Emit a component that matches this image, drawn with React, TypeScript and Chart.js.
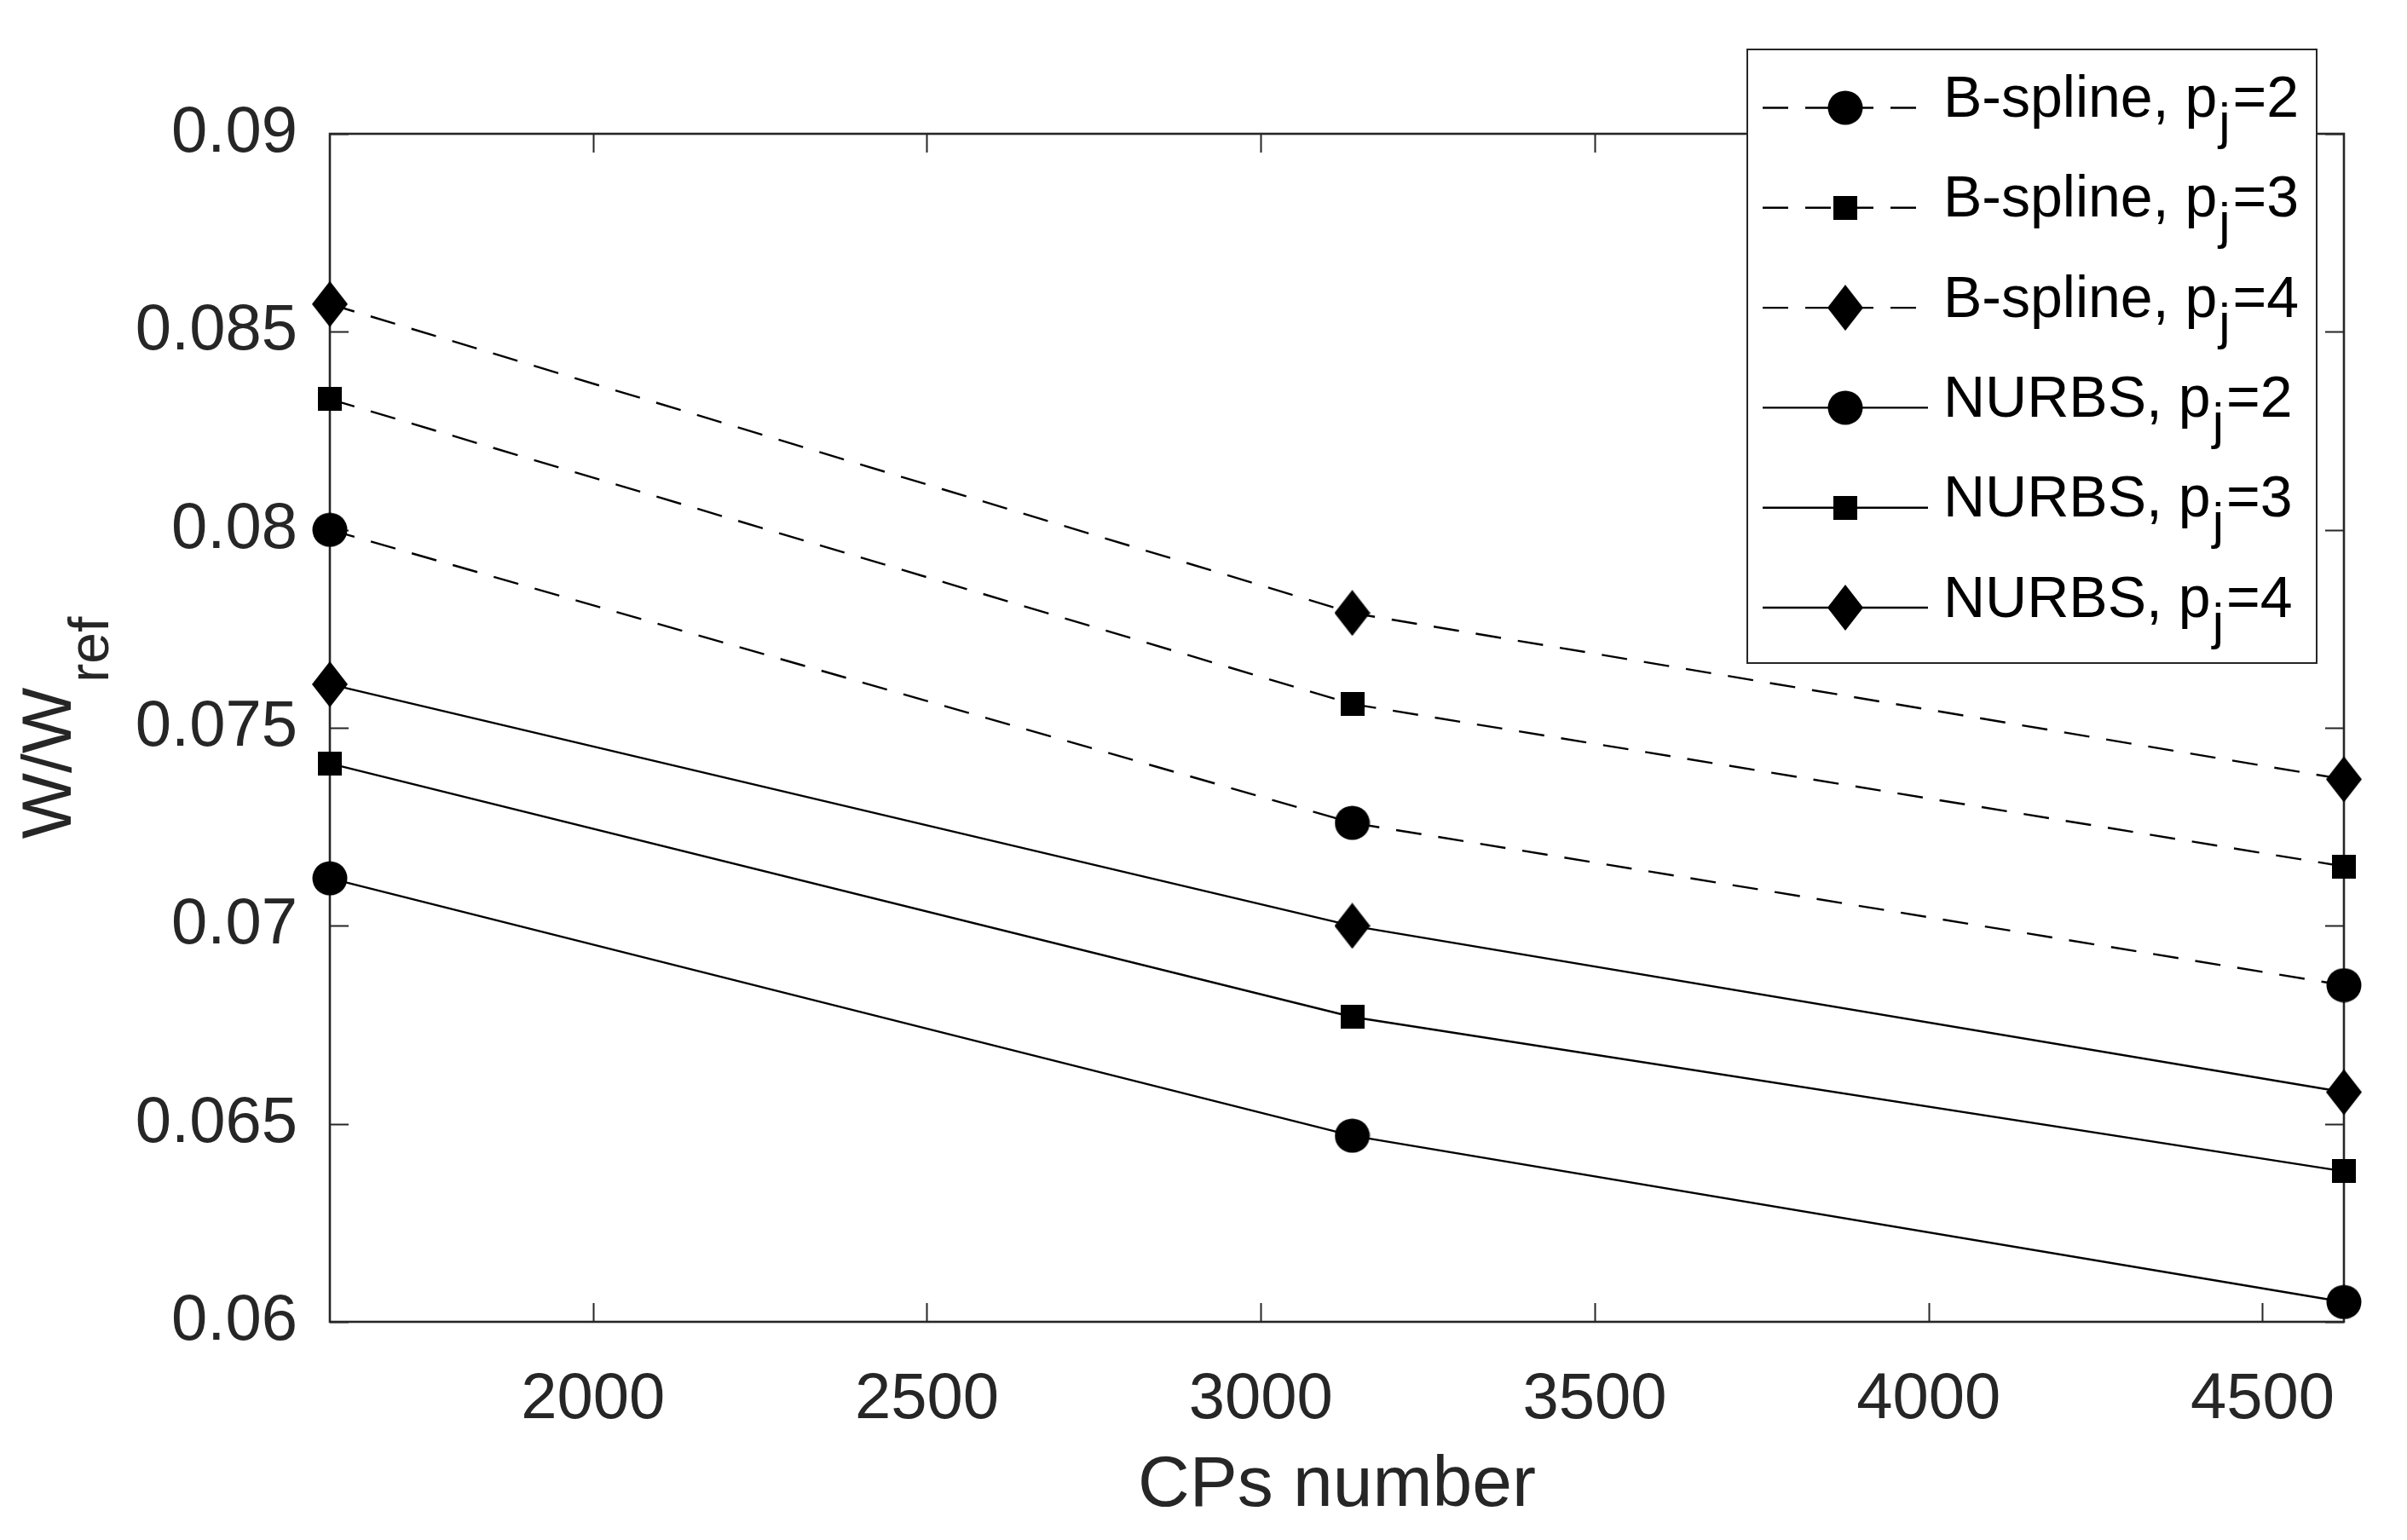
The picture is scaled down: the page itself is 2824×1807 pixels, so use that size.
import React, { useEffect, useRef } from "react";
import { Chart, registerables } from "chart.js";

Chart.register(...registerables);

// ---------- data ----------
const cpsNumber = [1606, 3137, 4622];
const bspline2 = [0.08, 0.0726, 0.0685];
const bspline3 = [0.0833, 0.0756, 0.0715];
const bspline4 = [0.0857, 0.0779, 0.0737];
const nurbs2 = [0.0712, 0.0647, 0.0605];
const nurbs3 = [0.0741, 0.0677, 0.0638];
const nurbs4 = [0.0761, 0.07, 0.0658];

const seriesNames = ["B-spline", "B-spline", "B-spline", "NURBS", "NURBS", "NURBS"];
const seriesDegrees = ["2", "3", "4", "2", "3", "4"];
const seriesValues = [bspline2, bspline3, bspline4, nurbs2, nurbs3, nurbs4];
const seriesMarkers = ["circle", "square", "diamond", "circle", "square", "diamond"];
const seriesDashed = [true, true, true, false, false, false];

const xTitle = "CPs number";
const yTitleMain = "W/W";
const yTitleSub = "ref";
const xLimits = [1606, 4622];
const yLimits = [0.06, 0.09];
const xTickValues = [2000, 2500, 3000, 3500, 4000, 4500];
const yTickValues = [0.06, 0.065, 0.07, 0.075, 0.08, 0.085, 0.09];

const FONT = "'Liberation Sans', Arial, Helvetica, sans-serif";
const AXIS_COLOR = "#262626";

function makeMarker(kind: string): HTMLCanvasElement {
  const c = document.createElement("canvas");
  let w = 42;
  let h = 41;
  if (kind === "square") {
    w = 28;
    h = 28;
  } else if (kind === "diamond") {
    w = 42;
    h = 54;
  }
  c.width = w;
  c.height = h;
  const ctx = c.getContext("2d")!;
  ctx.fillStyle = "#000";
  ctx.beginPath();
  if (kind === "circle") {
    ctx.ellipse(w / 2, h / 2, w / 2 - 0.5, h / 2 - 0.5, 0, 0, Math.PI * 2);
  } else if (kind === "square") {
    ctx.rect(0, 0, w, h);
  } else {
    ctx.moveTo(w / 2, 0);
    ctx.lineTo(w, h / 2);
    ctx.lineTo(w / 2, h);
    ctx.lineTo(0, h / 2);
    ctx.closePath();
  }
  ctx.fill();
  return c;
}

export default function App() {
  const ref = useRef<HTMLCanvasElement | null>(null);

  useEffect(() => {
    const canvas = ref.current;
    if (!canvas) return;
    const markers: Record<string, HTMLCanvasElement> = {
      circle: makeMarker("circle"),
      square: makeMarker("square"),
      diamond: makeMarker("diamond"),
    };

    const datasets = seriesValues.map((vals, i) => ({
      label: `${seriesNames[i]}, p_j=${seriesDegrees[i]}`,
      data: vals.map((v, k) => ({ x: cpsNumber[k], y: v })),
      borderColor: "#000",
      backgroundColor: "#000",
      borderWidth: 2.4,
      borderDash: seriesDashed[i] ? [30, 20] : [],
      pointStyle: markers[seriesMarkers[i]] as any,
      pointRadius: 20,
      tension: 0,
      clip: false as any,
      fill: false,
    }));

    const TICK_LEN = 22;

    const frame = {
      id: "matlabFrame",
      beforeDatasetsDraw(chart: any) {
        const { ctx, chartArea: a, scales } = chart;
        ctx.save();
        ctx.strokeStyle = AXIS_COLOR;
        ctx.lineWidth = 2;
        ctx.beginPath();
        scales.x.ticks.forEach((t: any) => {
          const px = Math.round(scales.x.getPixelForValue(t.value)) + 0.5;
          ctx.moveTo(px, a.bottom);
          ctx.lineTo(px, a.bottom - TICK_LEN);
          ctx.moveTo(px, a.top);
          ctx.lineTo(px, a.top + TICK_LEN);
        });
        scales.y.ticks.forEach((t: any) => {
          const py = Math.round(scales.y.getPixelForValue(t.value)) + 0.5;
          ctx.moveTo(a.left, py);
          ctx.lineTo(a.left + TICK_LEN, py);
          ctx.moveTo(a.right, py);
          ctx.lineTo(a.right - TICK_LEN, py);
        });
        ctx.stroke();
        ctx.lineWidth = 2.6;
        ctx.strokeRect(a.left, a.top, a.right - a.left, a.bottom - a.top);
        ctx.restore();
      },
      afterDraw(chart: any) {
        const { ctx, chartArea: a } = chart;
        // y axis title with subscript
        ctx.save();
        ctx.fillStyle = AXIS_COLOR;
        ctx.textBaseline = "alphabetic";
        ctx.textAlign = "left";
        const mainFont = `82px ${FONT}`;
        const subFont = `66px ${FONT}`;
        ctx.font = mainFont;
        const wMain = ctx.measureText(yTitleMain).width;
        ctx.font = subFont;
        const wSub = ctx.measureText(yTitleSub).width;
        const total = wMain + 6 + wSub;
        const cy = (a.top + a.bottom) / 2;
        ctx.translate(83, cy + total / 2);
        ctx.rotate(-Math.PI / 2);
        ctx.font = mainFont;
        ctx.fillText(yTitleMain, 0, 0);
        ctx.font = subFont;
        ctx.fillText(yTitleSub, wMain + 6, 44);
        ctx.restore();

        // legend
        ctx.save();
        const bx = 2050;
        const by = 58;
        const bw = 668;
        const bh = 720;
        ctx.fillStyle = "#fff";
        ctx.fillRect(bx, by, bw, bh);
        ctx.strokeStyle = AXIS_COLOR;
        ctx.lineWidth = 2;
        ctx.strokeRect(bx, by, bw, bh);
        for (let i = 0; i < seriesNames.length; i++) {
          const base = 137 + i * 117.3;
          const my = base - 10.5;
          ctx.strokeStyle = "#000";
          ctx.lineWidth = 2.4;
          ctx.setLineDash(seriesDashed[i] ? [30, 20] : []);
          ctx.beginPath();
          ctx.moveTo(2068, my);
          ctx.lineTo(2262, my);
          ctx.stroke();
          ctx.setLineDash([]);
          const m = markers[seriesMarkers[i]];
          ctx.drawImage(m, 2165 - m.width / 2, my - m.height / 2);
          ctx.fillStyle = "#000";
          ctx.textAlign = "left";
          ctx.textBaseline = "alphabetic";
          let x = 2280;
          ctx.font = `68px ${FONT}`;
          const t1 = `${seriesNames[i]}, p`;
          ctx.fillText(t1, x, base);
          x += ctx.measureText(t1).width;
          ctx.font = `60px ${FONT}`;
          ctx.fillText("j", x + 2, base + 26);
          x += ctx.measureText("j").width + 5;
          ctx.font = `68px ${FONT}`;
          ctx.fillText(`=${seriesDegrees[i]}`, x, base);
        }
        ctx.restore();
      },
    };

    const chart = new Chart(canvas, {
      type: "line",
      data: { datasets: datasets as any },
      options: {
        animation: false,
        responsive: true,
        maintainAspectRatio: false,
        devicePixelRatio: 1,
        layout: { padding: { left: 0, top: 157, right: 74, bottom: 0 } },
        plugins: {
          legend: { display: false },
          tooltip: { enabled: false },
          title: { display: false },
        },
        scales: {
          x: {
            type: "linear",
            min: xLimits[0],
            max: xLimits[1],
            grid: { display: false },
            border: { display: false },
            afterBuildTicks: (s: any) => {
              s.ticks = xTickValues.map((v) => ({ value: v }));
            },
            ticks: {
              maxRotation: 0,
              minRotation: 0,
              autoSkip: false,
              padding: 38,
              color: AXIS_COLOR,
              font: { family: FONT, size: 76 },
              callback: (v: any) => String(v),
            },
            title: {
              display: true,
              text: xTitle,
              color: AXIS_COLOR,
              font: { family: FONT, size: 84 },
              padding: { top: 0, bottom: 13 },
            },
            afterFit: (s: any) => {
              s.height = 256;
            },
          },
          y: {
            type: "linear",
            min: yLimits[0],
            max: yLimits[1],
            grid: { display: false },
            border: { display: false },
            afterBuildTicks: (s: any) => {
              s.ticks = yTickValues.map((v) => ({ value: v }));
            },
            ticks: {
              autoSkip: false,
              padding: 30,
              color: AXIS_COLOR,
              font: { family: FONT, size: 76 },
              callback: (v: any) => String(Number(Number(v).toFixed(4))),
            },
            afterFit: (s: any) => {
              s.width = 387;
            },
          },
        },
      },
      plugins: [frame],
    });

    return () => chart.destroy();
  }, []);

  return (
    <div
      style={{
        position: "fixed",
        left: 0,
        top: 0,
        width: 2824,
        height: 1807,
        background: "#fff",
      }}
    >
      <canvas ref={ref} />
    </div>
  );
}
